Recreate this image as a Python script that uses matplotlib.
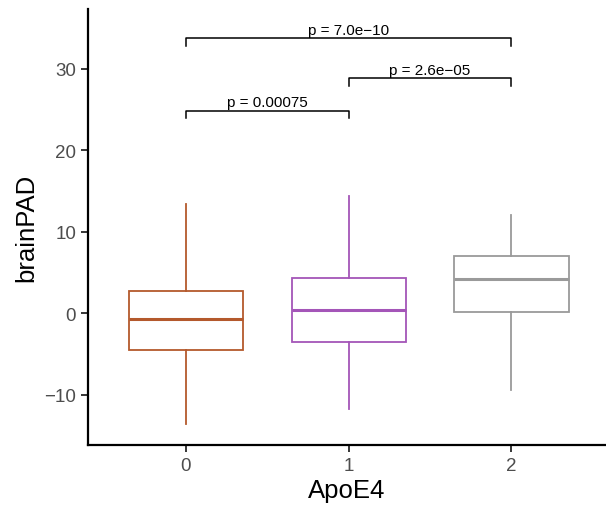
import matplotlib.pyplot as plt

plt.rcParams["font.family"] = ["Liberation Sans", "DejaVu Sans"]

groups = ["0", "1", "2"]
colors = ["#B4592C", "#A455B8", "#9A9A9A"]
q1 = [-4.5, -3.5, 0.1]
med = [-0.7, 0.4, 4.25]
q3 = [2.7, 4.35, 7.0]
whislo = [-13.6, -11.7, -9.45]
whishi = [13.4, 14.4, 12.0]

comparisons = [(0, 1, 24.8, "p = 0.00075"),
               (1, 2, 28.8, "p = 2.6e\u221205"),
               (0, 2, 33.7, "p = 7.0e\u221210")]

fig, ax = plt.subplots(figsize=(6.06, 5.06), dpi=100)
fig.subplots_adjust(left=0.145, right=1.0, top=0.98, bottom=0.118)

for i in range(len(groups)):
    stats = [dict(med=med[i], q1=q1[i], q3=q3[i], whislo=whislo[i], whishi=whishi[i], fliers=[])]
    ax.bxp(stats, positions=[i], widths=0.7, showcaps=False, patch_artist=True,
           boxprops=dict(facecolor="white", edgecolor=colors[i], linewidth=1.3),
           medianprops=dict(color=colors[i], linewidth=2.2),
           whiskerprops=dict(color=colors[i], linewidth=1.3))

for a, b, y, lab in comparisons:
    ax.plot([a, a, b, b], [y - 0.9, y, y, y - 0.9], color="black", lw=1.1)
    ax.text((a + b) / 2, y + 0.2, lab, ha="center", va="bottom", fontsize=11)

ax.set_xlim(-0.6, 2.58)
ax.set_ylim(-16.2, 37.3)
ax.set_xticks(range(len(groups)))
ax.set_xticklabels(groups)
ax.set_yticks([-10, 0, 10, 20, 30])
ax.set_xlabel("ApoE4", fontsize=18.5, labelpad=3)
ax.set_ylabel("brainPAD", fontsize=18.5)
ax.tick_params(labelsize=13.5, labelcolor="#4D4D4D", length=5, width=1.1)
for s in ["top", "right"]:
    ax.spines[s].set_visible(False)
for s in ["left", "bottom"]:
    ax.spines[s].set_linewidth(1.6)

plt.savefig("out.png")
